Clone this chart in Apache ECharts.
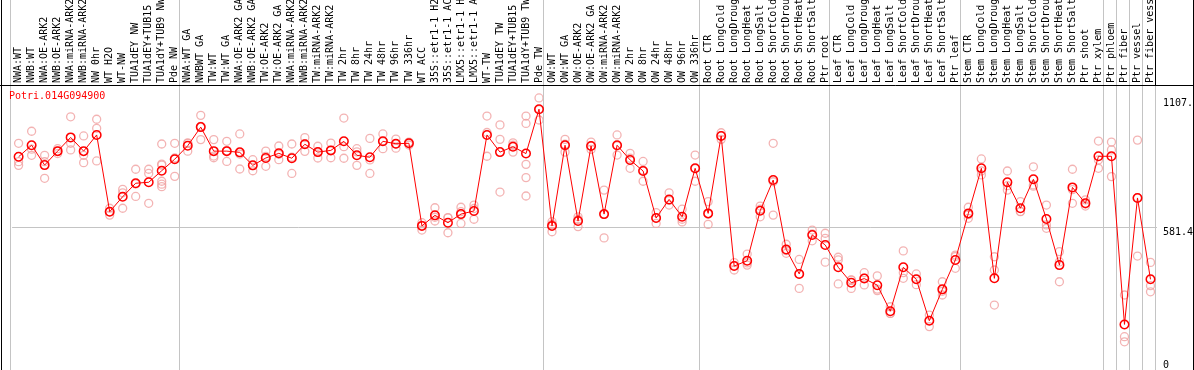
<!DOCTYPE html>
<html>
<head>
<meta charset="utf-8">
<script src="https://cdn.jsdelivr.net/npm/echarts@6/dist/echarts.min.js"></script>
<style>
html,body{margin:0;padding:0;background:#fff;}
#chart{width:1194px;height:370px;}
</style>
</head>
<body>
<div id="chart"></div>
<script>
const geneName = 'Potri.014G094900';

const categories = [
  'NWA:WT','NWB:WT','NWA:OE-ARK2','NWB:OE-ARK2','NWA:miRNA-ARK2','NWB:miRNA-ARK2','NW 0hr','WT H2O','WT-NW','TUA1dEY NW','TUA1dEY+TUB15','TUA1dY+TUB9 NW','Pde NW',
  'NWA:WT GA','NWBWT GA','TW:WT','TW:WT GA','NWA:OE-ARK2 GA','NWB:OE-ARK2 GA','TW:OE-ARK2','TW:OE-ARK2 GA','NWA:miRNA-ARK2','NWB:miRNA-ARK2','TW:miRNA-ARK2','TW:miRNA-ARK2',
  'TW 2hr','TW 8hr','TW 24hr','TW 48hr','TW 96hr','TW 336hr','WT ACC','35S::etr1-1 H2O','35S::etr1-1 ACC','LMX5::etr1-1 H2O','LMX5::etr1-1 ACC','WT-TW','TUA1dEY TW','TUA1dEY+TUB15','TUA1dY+TUB9 TW','Pde TW',
  'OW:WT','OW:WT GA','OW:OE-ARK2','OW:OE-ARK2 GA','OW:miRNA-ARK2','OW:miRNA-ARK2','OW 2hr','OW 8hr','OW 24hr','OW 48hr','OW 96hr','OW 336hr',
  'Root CTR','Root LongCold','Root LongDrought','Root LongHeat','Root LongSalt','Root ShortCold','Root ShortDrought','Root ShortHeat','Root ShortSalt','Ptr root',
  'Leaf CTR','Leaf LongCold','Leaf LongDrought','Leaf LongHeat','Leaf LongSalt','Leaf ShortCold','Leaf ShortDrought','Leaf ShortHeat','Leaf ShortSalt','Ptr leaf',
  'Stem CTR','Stem LongCold','Stem LongDrought','Stem LongHeat','Stem LongSalt','Stem ShortCold','Stem ShortDrought','Stem ShortHeat','Stem ShortSalt','Ptr shoot','Ptr xylem',
  'Ptr phloem','Ptr fiber','Ptr vessel','Ptr fiber vessel'
];

const means = [
  870,917,836,893,949,893,959,646,707,762,766,813,860,
  915,991,893,893,888,835,865,884,864,921,889,896,
  933,876,868,933,923,925,588,631,601,636,649,959,889,911,883,1064,
  588,917,608,914,636,917,857,812,620,696,625,823,
  639,955,424,446,650,775,492,392,551,510,
  419,356,373,346,240,419,370,201,329,449,
  639,823,374,766,660,778,616,428,745,680,872,
  872,186,702,370
];

const replicates = [
  [925,850,835],[974,901,876],[876,850,782],[903,893,883],[1033,925,898],[955,876,846],[1023,986,853],[660,646,632],[737,723,660],[819,759,708],[819,802,680],[922,840,836,770,758,748],[925,865,790],
  [927,925,893],[1039,994,940],[940,873,866],[933,895,851],[963,881,820],[858,834,813],[893,871,831],[914,880,858],[922,868,802],[948,923,892],[913,889,865],[926,896,866],
  [1028,911,864],[903,890,835],[945,857,802],[963,933,903],[942,922,905],[930,927,918],[601,590,571],[662,623,608],[622,621,560],[664,646,598],[673,659,615],[1036,969,872],[1000,941,726],[927,917,889],[1036,1006,839,785,710],[1110,1062,1020],
  [605,594,564],[941,921,889],[625,614,585],[930,914,900],[734,635,539],[959,915,877],[884,864,823],[851,815,770],[642,620,598],[723,692,673],[656,604,615],[877,822,770],
  [687,636,594],[968,956,941],[438,426,408],[473,437,428],[669,656,625],[925,768,632],[513,487,476],[451,392,333],[571,555,527],[558,537,440],
  [460,449,351],[368,367,333],[397,375,347],[384,330,324],[258,231,231],[486,397,374],[392,370,348],[224,202,177],[360,321,306],[469,463,415],
  [664,634,619],[861,812,796],[462,408,265],[812,752,734],[687,647,646],[829,755,750],[673,592,578],[483,441,360],[819,736,680],[694,677,669],[934,857,823],
  [930,898,789],[306,136,115],[938,703,465],[439,344,319]
];

const groupBounds = [0, 13, 41, 53, 63, 73, 84, 85, 86, 87, 88];
const yMax = 1162.8;
const yMid = 581.4;
const yMaxObserved = 1107;
const yTickLabels = { '0': '0', '581.4': '581.4', '1107': '1107.' };

const repPoints = [];
replicates.forEach((arr, i) => arr.forEach(v => repPoints.push([i, v])));

const chart = echarts.init(document.getElementById('chart'), null, { renderer: 'canvas' });

const mono = 'DejaVu Sans Mono';
const option = {
  animation: false,
  backgroundColor: '#ffffff',
  title: {
    text: geneName, left: 9, top: 91, padding: 0,
    textStyle: { color: '#ff0000', fontSize: 10, fontFamily: mono, fontWeight: 'normal' }
  },
  grid: [
    { left: 12.1, right: 37, top: 85, bottom: 0, containLabel: false, outerBoundsMode: 'none' },
    { left: 10, right: 39, top: 0, bottom: 0, containLabel: false, outerBoundsMode: 'none' }
  ],
  xAxis: [
    {
      type: 'category', gridIndex: 0, data: categories, position: 'top', boundaryGap: true,
      axisLine: { show: false }, axisTick: { show: false }, splitLine: { show: false },
      axisLabel: { rotate: 90, interval: 0, margin: 2, fontFamily: mono, fontSize: 10, color: '#000', hideOverlap: false }
    },
    {
      type: 'value', gridIndex: 1, min: 0, max: 88, show: false
    }
  ],
  yAxis: [
    {
      type: 'value', gridIndex: 0, min: 0, max: yMax, interval: yMid, position: 'right',
      axisLine: { show: false }, axisTick: { show: false },
      splitLine: { show: true, lineStyle: { color: '#c4c4c4', width: 1 } },
      axisLabel: {
        customValues: [yMid, yMaxObserved], margin: 6, verticalAlign: 'top',
        fontFamily: mono, fontSize: 10, color: '#000',
        formatter: v => yTickLabels[String(v)] || String(v)
      }
    },
    {
      type: 'value', gridIndex: 0, min: 0, max: yMax, position: 'right', offset: 0,
      axisLine: { show: false }, axisTick: { show: false }, splitLine: { show: false },
      axisLabel: {
        customValues: [0], margin: 6, verticalAlign: 'bottom',
        fontFamily: mono, fontSize: 10, color: '#000',
        formatter: v => yTickLabels[String(v)] || String(v)
      }
    },
    { type: 'value', gridIndex: 1, min: 0, max: 1, show: false }
  ],
  series: [
    {
      type: 'scatter', xAxisIndex: 1, yAxisIndex: 2, data: [], silent: true, z: 1,
      markLine: {
        silent: true, symbol: 'none', label: { show: false },
        lineStyle: { color: '#c4c4c4', width: 1, type: 'solid' },
        data: groupBounds.map(b => ({ xAxis: b }))
      }
    },
    {
      type: 'scatter', xAxisIndex: 0, yAxisIndex: 0, data: repPoints, z: 3,
      symbol: 'circle', symbolSize: 8,
      itemStyle: { color: 'rgba(255,255,255,0)', borderColor: '#f0a0a0', borderWidth: 1.3 }
    },
    {
      type: 'line', xAxisIndex: 0, yAxisIndex: 0, data: means, z: 5,
      symbol: 'circle', symbolSize: 8.5,
      lineStyle: { color: '#ff0000', width: 1 },
      itemStyle: { color: 'rgba(255,255,255,0)', borderColor: '#ff0000', borderWidth: 1.5 }
    }
  ],
  graphic: [
    { type: 'line', z: 100, shape: { x1: 0, y1: 85.5, x2: 1194, y2: 85.5 }, style: { stroke: '#000', lineWidth: 1 } },
    { type: 'line', z: 100, shape: { x1: 1.5, y1: 0, x2: 1.5, y2: 370 }, style: { stroke: '#000', lineWidth: 1 } },
    { type: 'line', z: 100, shape: { x1: 1193.5, y1: 0, x2: 1193.5, y2: 370 }, style: { stroke: '#000', lineWidth: 1 } },
    { type: 'line', z: 100, shape: { x1: 1155.5, y1: 0, x2: 1155.5, y2: 85 }, style: { stroke: '#000', lineWidth: 1 } }
  ]
};
chart.setOption(option);
</script>
</body>
</html>
